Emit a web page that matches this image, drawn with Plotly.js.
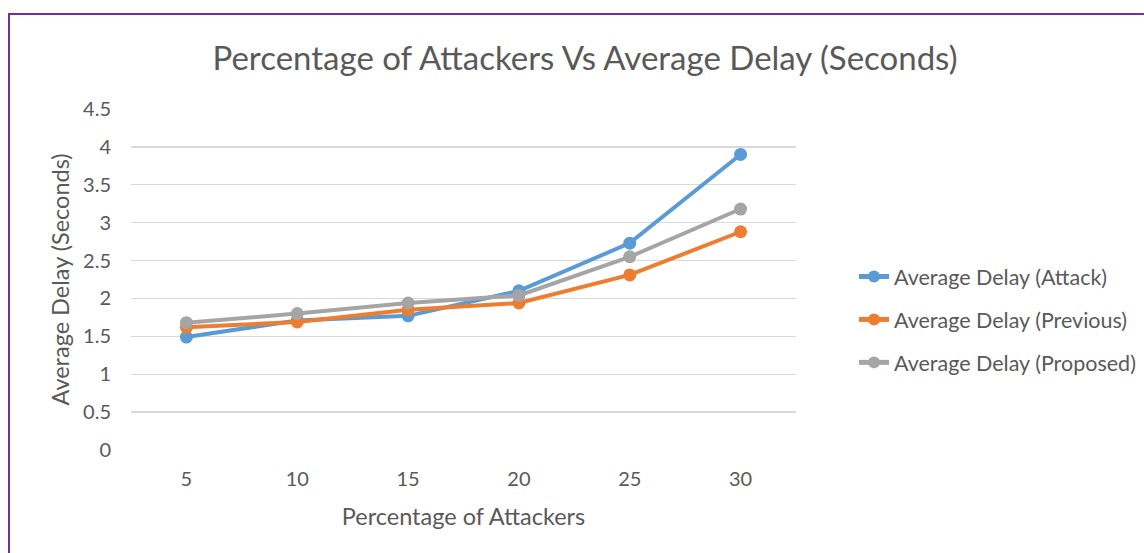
<!DOCTYPE html>
<html>
<head>
<meta charset="utf-8">
<script src="https://cdn.plot.ly/plotly-3.0.1.min.js"></script>
<style>
html,body{margin:0;padding:0;background:#fff;}
#chart{width:1144px;height:553px;}
#frame{position:absolute;left:8px;top:13px;width:1200px;height:600px;border-top:2.5px solid #7030A0;border-left:2.5px solid #7030A0;pointer-events:none;}
</style>
</head>
<body>
<div id="chart"></div>
<div id="frame"></div>
<script>
var categories = ["5", "10", "15", "20", "25", "30"];
var attackValues = [1.49, 1.71, 1.77, 2.10, 2.73, 3.90];
var previousValues = [1.62, 1.69, 1.85, 1.94, 2.31, 2.88];
var proposedValues = [1.68, 1.80, 1.94, 2.04, 2.55, 3.18];
var seriesNames = ["Average Delay (Attack)", "Average Delay (Previous)", "Average Delay (Proposed)"];
var yTickValues = [0, 0.5, 1, 1.5, 2, 2.5, 3, 3.5, 4, 4.5];
var yTickLabels = ["0", "0.5", "1", "1.5", "2", "2.5", "3", "3.5", "4", "4.5"];

var FONT = "Lato, 'Open Sans', sans-serif";
var TEXT = "#595959";

function trace(vals, name, color, grp) {
  return {
    x: categories, y: vals, name: name, type: "scatter", mode: "lines+markers",
    legendgroup: grp,
    line: {color: color, width: 4},
    marker: {color: color, size: 13}
  };
}

var data = [
  trace(attackValues, seriesNames[0], "#5B9BD5", "a"),
  trace(previousValues, seriesNames[1], "#ED7D31", "b"),
  trace(proposedValues, seriesNames[2], "#A5A5A5", "c")
];

var layout = {
  width: 1144, height: 553,
  margin: {l: 130.5, r: 347.5, t: 109, b: 103},
  paper_bgcolor: "#fff", plot_bgcolor: "#fff",
  font: {family: FONT, color: TEXT},
  title: {text: "Percentage of Attackers Vs Average Delay (Seconds)", font: {size: 33, color: TEXT, family: FONT},
          x: 585/1144, xanchor: "center", y: 1 - 58/553, yanchor: "middle", xref: "container", yref: "container"},
  xaxis: {type: "category", range: [-0.5, 5.5], showgrid: false, zeroline: false, showline: false,
          ticks: "", tickfont: {size: 20, color: TEXT}, ticklabelstandoff: 15,
          title: {text: "Percentage of Attackers", font: {size: 23.5, color: TEXT}, standoff: 19}},
  yaxis: {range: [0, 4.5], tickvals: yTickValues, ticktext: yTickLabels, showgrid: true, gridcolor: "#D9D9D9", gridwidth: 1.3,
          zeroline: false, showline: false, ticks: "", tickfont: {size: 20, color: TEXT}, ticklabelstandoff: 19,
          title: {text: "Average Delay (Seconds)", font: {size: 23.5, color: TEXT}, standoff: 6}},
  showlegend: true,
  legend: {xref: "container", yref: "container", x: 854 / 1144, xanchor: "left", y: 1 - 256 / 553, yanchor: "top",
           font: {size: 21.5, color: TEXT}, traceorder: "grouped", tracegroupgap: 12, itemsizing: "constant", bgcolor: "rgba(0,0,0,0)"}
};

Plotly.newPlot("chart", data, layout, {displayModeBar: false, staticPlot: true});
</script>
</body>
</html>
